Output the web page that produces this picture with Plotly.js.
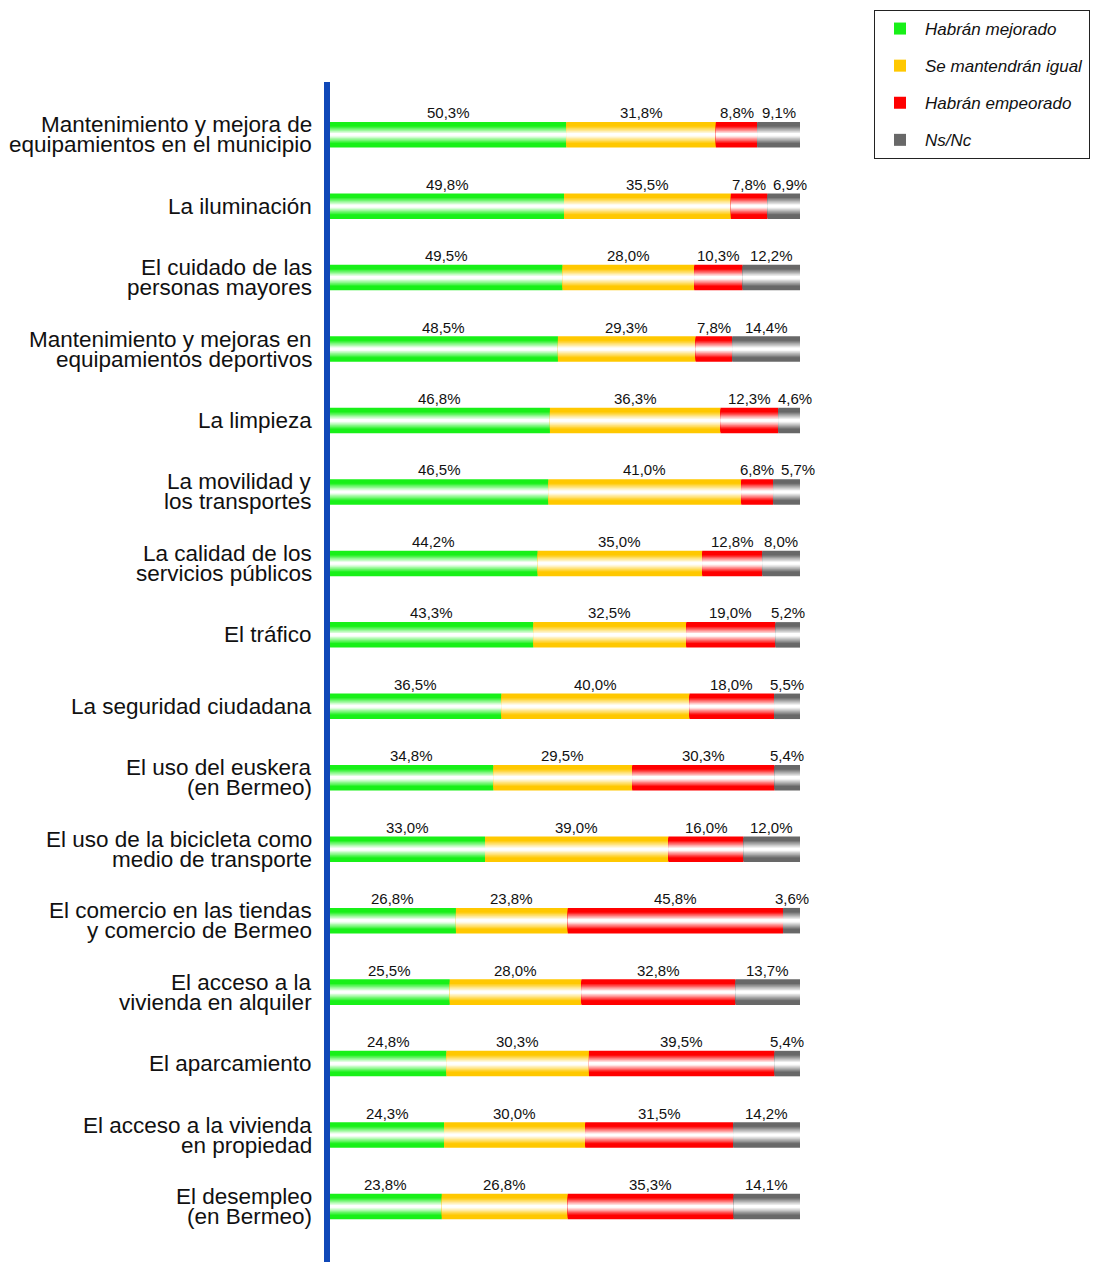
<!DOCTYPE html>
<html>
<head>
<meta charset="utf-8">
<script src="https://cdn.plot.ly/plotly-3.0.1.min.js"></script>
<style>html,body{margin:0;padding:0;background:#fff}#chart{width:1093px;height:1262px}</style>
</head>
<body>
<div id="chart"></div>
<script>
// ---- data ----
const categories = [
  ["Mantenimiento y mejora de", "equipamientos en el municipio"],
  ["La iluminación"],
  ["El cuidado de las", "personas mayores"],
  ["Mantenimiento y mejoras en", "equipamientos deportivos"],
  ["La limpieza"],
  ["La movilidad y", "los transportes"],
  ["La calidad de los", "servicios públicos"],
  ["El tráfico"],
  ["La seguridad ciudadana"],
  ["El uso del euskera", "(en Bermeo)"],
  ["El uso de la bicicleta como", "medio de transporte"],
  ["El comercio en las tiendas", "y comercio de Bermeo"],
  ["El acceso a la", "vivienda en alquiler"],
  ["El aparcamiento"],
  ["El acceso a la vivienda", "en propiedad"],
  ["El desempleo", "(en Bermeo)"]
];
const mejorado  = [50.3, 49.8, 49.5, 48.5, 46.8, 46.5, 44.2, 43.3, 36.5, 34.8, 33.0, 26.8, 25.5, 24.8, 24.3, 23.8];
const igual     = [31.8, 35.5, 28.0, 29.3, 36.3, 41.0, 35.0, 32.5, 40.0, 29.5, 39.0, 23.8, 28.0, 30.3, 30.0, 26.8];
const empeorado = [ 8.8,  7.8, 10.3,  7.8, 12.3,  6.8, 12.8, 19.0, 18.0, 30.3, 16.0, 45.8, 32.8, 39.5, 31.5, 35.3];
const nsnc      = [ 9.1,  6.9, 12.2, 14.4,  4.6,  5.7,  8.0,  5.2,  5.5,  5.4, 12.0,  3.6, 13.7,  5.4, 14.2, 14.1];
const seriesNames = ["Habrán mejorado", "Se mantendrán igual", "Habrán empeorado", "Ns/Nc"];
const seriesColors = ["#18f018", "#ffc800", "#ff0000", "#686868"];

// ---- build ----
const FONT = "Liberation Sans, Arial, Helvetica, sans-serif";
const LABEL_SIZE = 15;
const seriesValues = [mejorado, igual, empeorado, nsnc];
const rows = categories.map((_, i) => i);
const BAR_W = 0.357;
const LAYERS = 14;
const W = 1093, H = 1262;
const M = { l: 330, r: 293, t: 82, b: 0, pad: 0 };
const pxPerUnit = (W - M.l - M.r) / 100;

function hexToRgb(h) {
  const n = parseInt(h.slice(1), 16);
  return [(n >> 16) & 255, (n >> 8) & 255, n & 255];
}
function shade(hex, t) {
  // t: distance from bar centre (0) to edge (1)
  let f = (t - 0.08) / 0.6;
  f = Math.max(0, Math.min(1, f));
  const c = hexToRgb(hex);
  const m = c.map(v => Math.round(255 + (v - 255) * f));
  return `rgb(${m[0]},${m[1]},${m[2]})`;
}

// cumulative bases
const bases = seriesValues.map((vals, s) =>
  vals.map((_, i) => seriesValues.slice(0, s).reduce((acc, arr) => acc + arr[i], 0))
);

const traces = [];
seriesValues.forEach((vals, s) => {
  for (let k = 0; k < LAYERS; k++) {
    const outer = 1 - k / LAYERS;
    const inner = 1 - (k + 1) / LAYERS;
    traces.push({
      type: "bar",
      orientation: "h",
      y: rows,
      x: vals,
      base: bases[s],
      width: BAR_W * outer,
      name: seriesNames[s],
      legendgroup: seriesNames[s],
      showlegend: k === 0,
      marker: { color: k === 0 ? seriesColors[s] : shade(seriesColors[s], (outer + inner) / 2), line: { width: 0 } },
      hovertemplate: "%{x:.1f}%<extra>" + seriesNames[s] + "</extra>",
      hoverinfo: k === 0 ? undefined : "skip"
    });
  }
});

// text width measurement for label collision avoidance
const ctx = document.createElement("canvas").getContext("2d");
ctx.font = LABEL_SIZE + "px 'Liberation Sans', Arial, sans-serif";
const fmt = v => v.toFixed(1).replace(".", ",") + "%";
const GAP = 7;

const annotations = [];
// value labels above each segment, pushed right if they would collide
rows.forEach(i => {
  let prevRight = -Infinity;
  seriesValues.forEach((vals, s) => {
    const v = vals[i];
    const txt = fmt(v);
    const w = ctx.measureText(txt).width;
    let cx = (bases[s][i] + v / 2) * pxPerUnit;
    if (cx - w / 2 < prevRight + GAP) cx = prevRight + GAP + w / 2;
    prevRight = cx + w / 2;
    annotations.push({
      x: cx / pxPerUnit, y: i, xref: "x", yref: "y",
      text: txt,
      showarrow: false, yshift: 22, xanchor: "center", yanchor: "middle",
      font: { family: FONT, size: LABEL_SIZE, color: "#111" }
    });
  });
});
// category labels (one annotation per line for the tight line spacing of the original)
categories.forEach((lines, i) => {
  lines.forEach((line, j) => {
    const shift = lines.length === 1 ? 0 : (j === 0 ? 10 : -10);
    annotations.push({
      x: 0, xref: "paper", y: i, yref: "y",
      text: line, showarrow: false, xanchor: "right", yanchor: "middle",
      xshift: -16, yshift: shift,
      font: { family: FONT, size: 22.5, color: "#111" }
    });
  });
});

const layout = {
  width: W, height: H,
  margin: M,
  paper_bgcolor: "#fff", plot_bgcolor: "#fff",
  barmode: "overlay",
  font: { family: FONT, color: "#111" },
  xaxis: { range: [0, 100], visible: false, fixedrange: true },
  yaxis: {
    range: [15.777, -0.7376], showticklabels: false, ticks: "",
    showgrid: false, zeroline: false,
    showline: true, linecolor: "#1048b8", linewidth: 6, fixedrange: true
  },
  legend: {
    x: (874 - M.l) / (W - M.l - M.r), y: 1 + (M.t - 10) / (H - M.t - M.b),
    xanchor: "left", yanchor: "top",
    bordercolor: "#222", borderwidth: 1, bgcolor: "#fff",
    font: { family: FONT, size: 17, color: "#111", style: "italic" },
    itemwidth: 40, tracegroupgap: 12, traceorder: "grouped"
  },
  annotations: annotations,
  showlegend: true
};

Plotly.newPlot("chart", traces, layout, { displayModeBar: false, responsive: false });
</script>
</body>
</html>
